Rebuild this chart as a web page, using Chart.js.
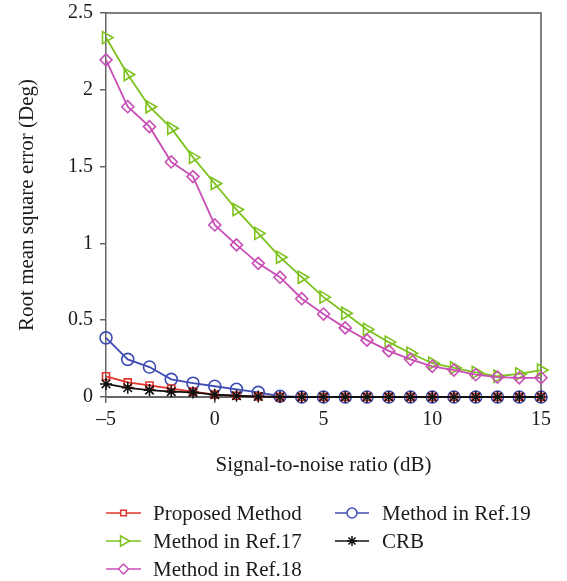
<!DOCTYPE html>
<html>
<head>
<meta charset="utf-8">
<script src="https://cdn.jsdelivr.net/npm/chart.js@4.4.1/dist/chart.umd.min.js"></script>
<style>
  html, body { margin: 0; padding: 0; background: #fff; }
  #wrap { width: 567px; height: 581px; position: relative; }
</style>
</head>
<body>
<div id="wrap"><canvas id="rmse-canvas"></canvas></div>
<script>
const snr      = [-5, -4, -3, -2, -1, 0, 1, 2, 3, 4, 5, 6, 7, 8, 9, 10, 11, 12, 13, 14, 15];
const proposed = [0.135, 0.095, 0.075, 0.055, 0.035, 0.015, 0.008, 0.004, 0.001, 0, 0, 0, 0, 0, 0, 0, 0, 0, 0, 0, 0];
const ref17    = [2.34, 2.10, 1.89, 1.75, 1.56, 1.39, 1.22, 1.065, 0.91, 0.78, 0.65, 0.545, 0.44, 0.357, 0.285, 0.22, 0.19, 0.16, 0.135, 0.15, 0.175];
const ref18    = [2.195, 1.89, 1.76, 1.53, 1.435, 1.12, 0.99, 0.87, 0.78, 0.64, 0.54, 0.45, 0.37, 0.30, 0.245, 0.20, 0.175, 0.145, 0.13, 0.125, 0.125];
const ref19    = [0.385, 0.245, 0.195, 0.115, 0.09, 0.07, 0.05, 0.03, 0.005, 0, 0, 0, 0, 0, 0, 0, 0, 0, 0, 0, 0];
const crb      = [0.085, 0.06, 0.045, 0.035, 0.03, 0.015, 0.008, 0.003, 0, 0, 0, 0, 0, 0, 0, 0, 0, 0, 0, 0, 0];
const xTicks   = [-5, 0, 5, 10, 15];
const yTicks   = [0, 0.5, 1, 1.5, 2, 2.5];

const FONT = '"Liberation Serif", "DejaVu Serif", serif';
const pts = arr => arr.map((v, i) => ({ x: snr[i], y: v }));

const series = [
  { label: 'Proposed Method',  data: proposed, color: '#e2372c', style: 'rect',     radius: 5, rot: 0,  order: 1, col: 0, row: 0 },
  { label: 'Method in Ref.17', data: ref17,    color: '#7cc21c', style: 'triangle', radius: 7, rot: 90, order: 4, col: 0, row: 1 },
  { label: 'Method in Ref.18', data: ref18,    color: '#c84fb6', style: 'rectRot',  radius: 6, rot: 0,  order: 3, col: 0, row: 2 },
  { label: 'Method in Ref.19', data: ref19,    color: '#3f4db3', style: 'circle',   radius: 6, rot: 0,  order: 2, col: 1, row: 0 },
  { label: 'CRB',              data: crb,      color: '#111111', style: 'star',     radius: 6, rot: 0,  order: 0, col: 1, row: 1 }
];

// legend drawn below the axes, two columns like the figure
const legendBelow = {
  id: 'legendBelow',
  beforeDatasetsDraw(chart) {
    const { ctx, chartArea: a } = chart;
    ctx.save();
    ctx.strokeStyle = '#555';
    ctx.lineWidth = 1.5;
    ctx.beginPath();
    ctx.moveTo(a.left, a.top); ctx.lineTo(a.right, a.top); ctx.lineTo(a.right, a.bottom);
    ctx.stroke();
    ctx.restore();
  },
  afterDraw(chart) {
    const { ctx } = chart;
    const colX  = [[106, 141, 153], [335, 369, 382]];
    const rowY  = [513, 541, 569];
    ctx.save();
    ctx.font = '21px ' + FONT;
    ctx.textBaseline = 'middle';
    series.forEach(s => {
      const [x0, x1, tx] = colX[s.col];
      const y = rowY[s.row];
      ctx.strokeStyle = s.color;
      ctx.lineWidth = 1.5;
      ctx.beginPath(); ctx.moveTo(x0, y); ctx.lineTo(x1, y); ctx.stroke();
      if (Chart.helpers && Chart.helpers.drawPoint) {
        ctx.fillStyle = '#fff';
        Chart.helpers.drawPoint(ctx, { pointStyle: s.style, radius: s.radius - 1, rotation: s.rot, borderWidth: 1.5 }, (x0 + x1) / 2, y);
      }
      ctx.fillStyle = '#1a1a1a';
      ctx.fillText(s.label, tx, y + 1);
    });
    ctx.restore();
  }
};

new Chart(document.getElementById('rmse-canvas'), {
  type: 'line',
  data: {
    datasets: series.map(s => ({
      label: s.label,
      data: pts(s.data),
      order: s.order,
      borderColor: s.color,
      backgroundColor: 'rgba(255,255,255,0)',
      borderWidth: 1.8,
      tension: 0,
      pointStyle: s.style,
      pointRadius: s.radius,
      pointRotation: s.rot,
      pointBorderWidth: 1.6,
      pointBorderColor: s.color,
      pointBackgroundColor: 'rgba(255,255,255,0)'
    }))
  },
  options: {
    responsive: true, maintainAspectRatio: false, animation: false,
    clip: false,
    layout: { padding: { left: 0, right: 26, top: 13, bottom: 99 } },
    plugins: {
      legend: { display: false },
      tooltip: { enabled: false }
    },
    scales: {
      x: {
        type: 'linear', min: -5, max: 15,
        afterBuildTicks: sc => { sc.ticks = xTicks.map(v => ({ value: v })); },
        afterFit: sc => { sc.height = 85; sc.paddingLeft = 0; sc.paddingRight = 0; },
        border: { display: true, color: '#666', width: 2 },
        grid: { drawOnChartArea: false, drawTicks: true, tickLength: 6, color: '#666', lineWidth: 1.5 },
        ticks: { color: '#1a1a1a', padding: 5, font: { family: FONT, size: 20 },
                 callback: v => v < 0 ? '\u2013' + Math.abs(v) : String(v) },
        title: { display: true, text: 'Signal-to-noise ratio (dB)', color: '#1a1a1a',
                 font: { family: FONT, size: 21 }, padding: { top: 0, bottom: 4 } }
      },
      y: {
        type: 'linear', min: 0, max: 2.5,
        afterBuildTicks: sc => { sc.ticks = yTicks.map(v => ({ value: v })); },
        afterFit: sc => { sc.width = 106; sc.paddingTop = 0; sc.paddingBottom = 0; },
        border: { display: true, color: '#666', width: 1.5 },
        grid: { drawOnChartArea: false, drawTicks: true, tickLength: 6, color: '#666', lineWidth: 1.5 },
        ticks: { color: '#1a1a1a', padding: 7, font: { family: FONT, size: 20 },
                 callback: v => String(v) },
        title: { display: true, text: 'Root mean square error (Deg)', color: '#1a1a1a',
                 font: { family: FONT, size: 21 }, padding: { top: 15, bottom: 0 } }
      }
    }
  },
  plugins: [legendBelow]
});
</script>
</body>
</html>
